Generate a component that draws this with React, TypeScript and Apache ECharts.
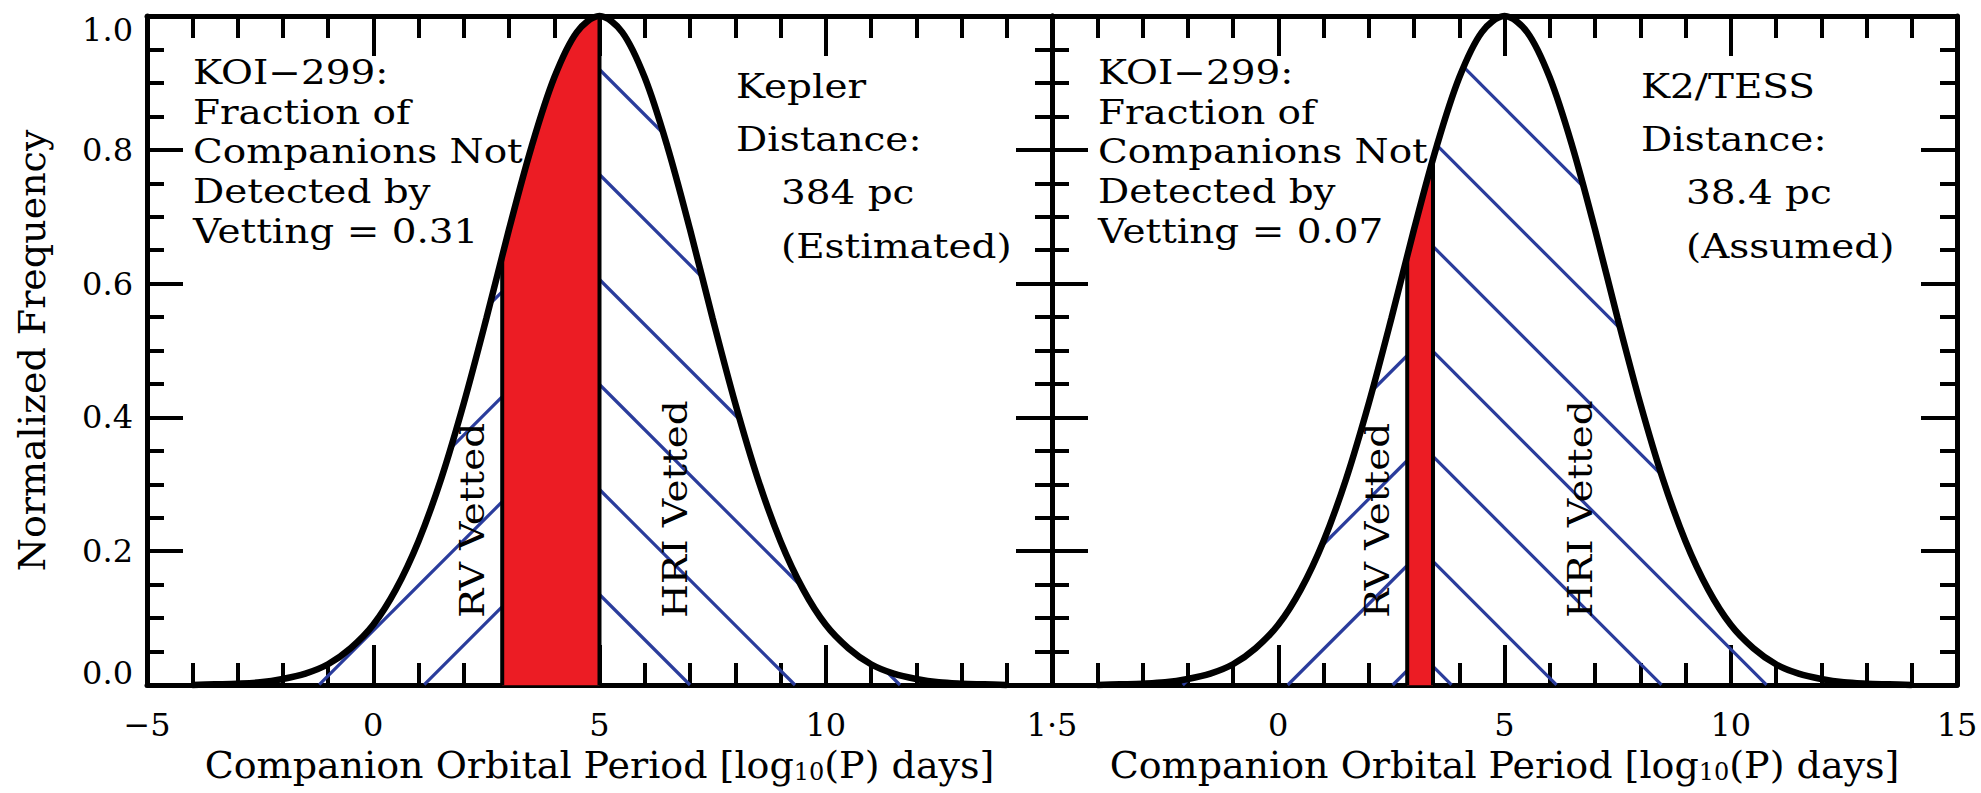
import React, { useEffect, useRef } from 'react';
import * as echarts from 'echarts';

// ---- data ----
// companion orbital period grid, log10(P) days
const periodGrid = [-4, -3.5, -3, -2.5, -2, -1.5, -1, -0.5, 0, 0.5, 1, 1.5, 2, 2.5, 3, 3.5, 4, 4.5, 5, 5.5, 6, 6.5, 7, 7.5, 8, 8.5, 9, 9.5, 10, 10.5, 11, 11.5, 12, 12.5, 13, 13.5, 14];
// normalized frequency of the companion period distribution (same curve in both panels)
const normFreq = [0.000, 0.001, 0.002, 0.004, 0.009, 0.017, 0.031, 0.055, 0.090, 0.143, 0.215, 0.308, 0.421, 0.548, 0.681, 0.805, 0.908, 0.976, 1.000, 0.976, 0.908, 0.805, 0.681, 0.548, 0.421, 0.308, 0.215, 0.143, 0.090, 0.055, 0.031, 0.017, 0.009, 0.004, 0.002, 0.001, 0.000];
// vetting limits per panel (left: Kepler, right: K2/TESS)
const rvLimits = [2.85, 2.85];
const hriLimits = [5.0, 3.42];
const vettingFractions = ['0.31', '0.07'];
const surveyNames = ['Kepler', 'K2/TESS'];
const distances = ['384 pc', '38.4 pc'];
const distanceNotes = ['(Estimated)', '(Assumed)'];
const xTicks = [-5, 0, 5, 10, 15];
const yTicks = [0, 0.2, 0.4, 0.6, 0.8, 1.0];

// ---- style ----
const FONT = '"DejaVu Serif", serif';
const RED = '#ec1c24';
const BLUE = '#2a3c9c';
const HATCH_SP = 105; // px between hatch lines
const rvHatchPhase = [-1.2, 0.21]; // baseline crossing of one hatch line
const hriHatchPhase = [7.0, 3.83];
const gridLefts = [147, 1052];
const GRID_TOP = 16;
const GRID_W = 905;
const GRID_H = 669;

function makeRenderItem(g: number) {
  return (_params: any, api: any) => {
    const pts = periodGrid.map((x, i) => api.coord([x, normFreq[i]]));
    const n = pts.length;
    const base = api.coord([0, 0])[1];
    const curveY = (px: number) => {
      if (px <= pts[0][0]) return pts[0][1];
      if (px >= pts[n - 1][0]) return pts[n - 1][1];
      let i = 0;
      while (i < n - 2 && pts[i + 1][0] <= px) i++;
      const t = (px - pts[i][0]) / (pts[i + 1][0] - pts[i][0]);
      const p0 = pts[Math.max(i - 1, 0)][1];
      const p1 = pts[i][1];
      const p2 = pts[i + 1][1];
      const p3 = pts[Math.min(i + 2, n - 1)][1];
      return 0.5 * (2 * p1 + (-p0 + p2) * t + (2 * p0 - 5 * p1 + 4 * p2 - p3) * t * t + (-p0 + 3 * p1 - 3 * p2 + p3) * t * t * t);
    };
    const xRv = api.coord([rvLimits[g], 0])[0];
    const xHri = api.coord([hriLimits[g], 0])[0];
    const children: any[] = [];
    // red: not detected by either vetting
    const poly: number[][] = [];
    for (let x = xRv; x < xHri; x += 1) poly.push([x, curveY(x)]);
    poly.push([xHri, curveY(xHri)]);
    poly.push([xHri, base]);
    poly.push([xRv, base]);
    children.push({ type: 'polygon', shape: { points: poly }, style: { fill: RED, stroke: RED, lineWidth: 0.5 } });
    // hatching
    const hatch = (x0: number, x1: number, anchor: number, dir: number) => {
      for (let k = -25; k <= 25; k++) {
        const a = anchor + k * HATCH_SP;
        const ly = (x: number) => base + dir * (x - a);
        let start: number | null = null;
        let prev = x0;
        const push = (s: number, e: number) => {
          if (e - s < 1) return;
          children.push({ type: 'line', shape: { x1: s, y1: ly(s), x2: e, y2: ly(e) }, style: { stroke: BLUE, lineWidth: 3.2 } });
        };
        for (let x = x0; x <= x1 + 1e-6; x += 0.5) {
          const y = ly(x);
          const inside = y <= base + 0.01 && y >= curveY(x);
          if (inside && start === null) start = x;
          if (!inside && start !== null) { push(start, prev); start = null; }
          prev = x;
        }
        if (start !== null) push(start, prev);
      }
    };
    hatch(pts[0][0], xRv, api.coord([rvHatchPhase[g], 0])[0], -1);
    hatch(xHri, pts[n - 1][0], api.coord([hriHatchPhase[g], 0])[0], 1);
    // limit lines
    for (const xl of [xRv, xHri]) {
      children.push({ type: 'line', shape: { x1: xl, y1: base, x2: xl, y2: curveY(xl) }, style: { stroke: '#000', lineWidth: 4 } });
    }
    // region labels
    const lab = (txt: string, xv: number) => {
      const p = api.coord([xv, 0.1]);
      children.push({ type: 'text', x: p[0], y: p[1], rotation: Math.PI / 2, scaleX: 1.18, style: { text: txt, fontSize: 33, fontFamily: FONT, fill: '#000', align: 'left', verticalAlign: 'middle' } });
    };
    lab('RV Vetted', 2.2);
    lab('HRI Vetted', 6.7);
    return { type: 'group', children };
  };
}

const minus = (v: number) => (v < 0 ? '\u2212' + Math.abs(v) : String(v));

function xAxis(g: number, pos: 'bottom' | 'top') {
  return {
    type: 'value', gridIndex: g, position: pos, min: -5, max: 15, interval: 5,
    axisLine: { show: true, onZero: false, lineStyle: { color: '#000', width: 5 } },
    axisTick: { show: true, inside: true, length: 40, lineStyle: { color: '#000', width: 4 } },
    minorTick: { show: true, splitNumber: 5, length: 22, lineStyle: { color: '#000', width: 4 } },
    splitLine: { show: false }, minorSplitLine: { show: false },
    axisLabel: pos === 'bottom' ? {
      show: true, margin: 24, fontSize: 32, fontFamily: FONT, color: '#000',
      showMinLabel: g === 0, showMaxLabel: true,
      formatter: (v: number) => (g === 0 && v === xTicks[xTicks.length - 1] ? '1\u00b75' : minus(v)),
    } : { show: false },
    name: pos === 'bottom' ? 'Companion Orbital Period [log{s|10}(P) days]' : '',
    nameLocation: 'middle', nameGap: 61,
    nameTextStyle: {
      fontSize: 38, fontFamily: FONT, color: '#000',
      rich: { s: { fontSize: 24, fontFamily: FONT, color: '#000', verticalAlign: 'bottom', lineHeight: 8 } },
    },
  };
}

function yAxis(g: number, pos: 'left' | 'right') {
  const labels = g === 0 && pos === 'left';
  return {
    type: 'value', gridIndex: g, position: pos, min: 0, max: 1, interval: 0.2,
    axisLine: { show: true, onZero: false, lineStyle: { color: '#000', width: 5 } },
    axisTick: { show: true, inside: true, length: 36, lineStyle: { color: '#000', width: 4 } },
    minorTick: { show: true, splitNumber: 4, length: 17, lineStyle: { color: '#000', width: 4 } },
    splitLine: { show: false }, minorSplitLine: { show: false },
    axisLabel: labels ? {
      show: true, margin: 14, fontSize: 32, fontFamily: FONT, color: '#000',
      showMinLabel: true, showMaxLabel: true,
      formatter: (v: number) => {
        const s = v.toFixed(1);
        if (Math.abs(v) < 1e-9) return '{lo|' + s + '}';
        if (Math.abs(v - yTicks[yTicks.length - 1]) < 1e-9) return '{hi|' + s + '}';
        return s;
      },
      rich: {
        lo: { fontSize: 32, fontFamily: FONT, color: '#000', padding: [0, 0, 24, 0] },
        hi: { fontSize: 32, fontFamily: FONT, color: '#000', padding: [28, 0, 0, 0] },
      },
    } : { show: false },
    name: labels ? 'Normalized Frequency' : '',
    nameLocation: 'middle', nameRotate: 90, nameGap: 96,
    nameTextStyle: { fontSize: 38, fontFamily: FONT, color: '#000' },
  };
}

const graphic: any[] = [];
[0, 1].forEach((g) => {
  const left = gridLefts[g];
  const block = ['KOI\u2212299:', 'Fraction of', 'Companions Not', 'Detected by', 'Vetting = ' + vettingFractions[g]];
  const blockY = [73, 113, 152, 192, 232];
  block.forEach((t, i) => {
    graphic.push({ type: 'text', x: left + 46, y: blockY[i], scaleX: 1.18, style: { text: t, fontSize: 33, fontFamily: FONT, fill: '#000', align: 'left', verticalAlign: 'middle' } });
  });
  const side = [surveyNames[g], 'Distance:', distances[g], distanceNotes[g]];
  const sideY = [87, 140, 193, 247];
  const sideX = [589, 589, 634, 634];
  side.forEach((t, i) => {
    graphic.push({ type: 'text', x: left + sideX[i], y: sideY[i], scaleX: 1.18, style: { text: t, fontSize: 33, fontFamily: FONT, fill: '#000', align: 'left', verticalAlign: 'middle' } });
  });
});

const option: any = {
  animation: false,
  backgroundColor: '#fff',
  grid: gridLefts.map((l) => ({ left: l, top: GRID_TOP, width: GRID_W, height: GRID_H, containLabel: false, outerBoundsMode: 'none' })),
  xAxis: [xAxis(0, 'bottom'), xAxis(0, 'top'), xAxis(1, 'bottom'), xAxis(1, 'top')],
  yAxis: [yAxis(0, 'left'), yAxis(0, 'right'), yAxis(1, 'left'), yAxis(1, 'right')],
  series: [0, 1].flatMap((g) => [
    {
      type: 'custom', name: 'vetting' + g, xAxisIndex: 2 * g, yAxisIndex: 2 * g,
      data: [[0, 0]], clip: false, z: 1, silent: true,
      renderItem: makeRenderItem(g),
    },
    {
      type: 'line', name: 'distribution' + g, xAxisIndex: 2 * g, yAxisIndex: 2 * g,
      data: periodGrid.map((x, i) => [x, normFreq[i]]),
      smooth: 0.33, showSymbol: false, symbol: 'none', z: 3, clip: false,
      lineStyle: { color: '#000', width: 6.5 },
    },
  ]),
  graphic,
};

export default function App() {
  const ref = useRef<HTMLDivElement>(null);
  useEffect(() => {
    const chart = echarts.init(ref.current as HTMLDivElement, null, { renderer: 'svg' });
    chart.setOption(option);
    return () => chart.dispose();
  }, []);
  return <div ref={ref} style={{ position: 'fixed', left: 0, top: 0, width: 1981, height: 793, background: '#fff' }} />;
}
